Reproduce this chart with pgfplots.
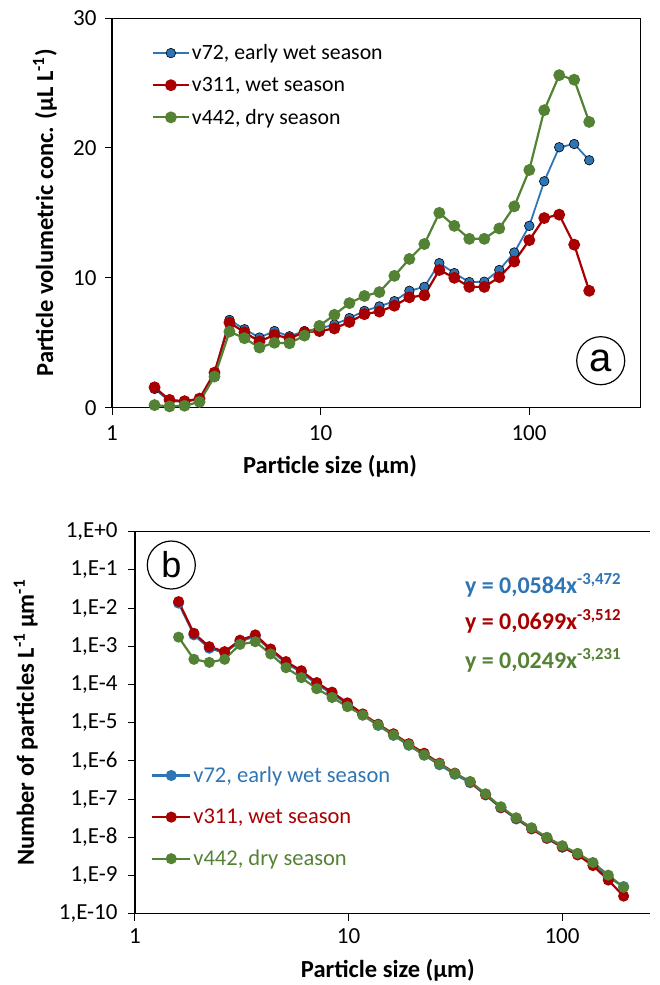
\documentclass[border=0pt]{standalone}
\usepackage{pgfplots}
\usepackage{pgfplotstable}
\pgfplotsset{compat=1.18}
\usepackage{fontspec}
\setmainfont{Carlito}
\newfontfamily\arialfont{Liberation Sans}
\definecolor{cblue}{RGB}{46,117,182}
\definecolor{cred}{RGB}{168,0,0}
\definecolor{cgreen}{RGB}{84,130,53}
\pgfplotstableread{
x a72 a311 a442 b72 b311 b442
1.600 1.45 1.57 0.20 1.349e-2 1.479e-2 1.738e-3
1.888 0.50 0.60 0.10 1.995e-3 2.188e-3 4.571e-4
2.228 0.45 0.50 0.15 8.913e-4 9.772e-4 3.802e-4
2.629 0.65 0.70 0.45 6.761e-4 7.244e-4 4.571e-4
3.102 2.70 2.70 2.40 1.349e-3 1.445e-3 1.122e-3
3.660 6.76 6.55 5.86 1.820e-3 1.995e-3 1.318e-3
4.319 6.04 5.80 5.35 7.943e-4 8.511e-4 6.310e-4
5.097 5.40 5.10 4.63 3.631e-4 3.981e-4 2.754e-4
6.014 5.90 5.60 5.00 2.089e-4 2.291e-4 1.514e-4
7.097 5.50 5.35 4.96 1.023e-4 1.122e-4 7.762e-5
8.374 5.90 5.80 5.55 5.754e-5 6.310e-5 4.571e-5
9.881 6.10 5.90 6.30 3.020e-5 3.311e-5 2.630e-5
11.66 6.40 6.10 7.15 1.585e-5 1.698e-5 1.585e-5
13.76 6.90 6.60 8.05 8.511e-6 9.120e-6 8.710e-6
16.24 7.45 7.20 8.60 4.677e-6 5.129e-6 4.786e-6
19.16 7.80 7.40 8.90 2.570e-6 2.818e-6 2.630e-6
22.61 8.20 7.85 10.15 1.413e-6 1.585e-6 1.445e-6
26.68 9.00 8.50 11.45 7.943e-7 8.710e-7 8.318e-7
31.48 9.30 8.65 12.60 4.467e-7 4.786e-7 4.677e-7
37.14 11.13 10.60 15.00 2.692e-7 2.818e-7 2.884e-7
43.83 10.36 10.00 14.00 1.288e-7 1.318e-7 1.380e-7
51.72 9.67 9.30 13.00 5.888e-8 6.026e-8 6.310e-8
61.03 9.70 9.30 13.00 3.020e-8 3.162e-8 3.236e-8
72.01 10.60 10.05 13.80 1.660e-8 1.698e-8 1.778e-8
84.97 11.95 11.25 15.50 9.333e-9 9.550e-9 1.000e-8
100.3 14.00 12.90 18.30 5.495e-9 5.623e-9 6.026e-9
118.3 17.43 14.60 22.90 3.548e-9 3.467e-9 3.802e-9
139.6 20.05 14.86 25.60 2.089e-9 1.820e-9 2.188e-9
164.7 20.30 12.55 25.25 8.913e-10 7.586e-10 1.023e-9
194.4 19.05 9.00 22.00 5.129e-10 2.884e-10 4.898e-10
}\data
\begin{document}
\begin{tikzpicture}
\useasboundingbox (0pt,0pt) rectangle (659pt,-985pt);
% ---------------- panel a
\begin{axis}[
  scale only axis, xmode=log, xmin=1,
  xminorticks=false, yminorticks=false,
  tick align=outside, major tick length=7pt,
  axis line style={line width=1.3pt},
  tick style={line width=1pt, black},
  ticklabel style={font=\fontsize{23}{26}\selectfont},
  xticklabel style={yshift=-7pt},
  yticklabel style={xshift=-5pt},
  xtick={1,10,100}, xticklabels={1,10,100},
  clip=false,
  at={(112pt,-407.7pt)}, anchor=south west,
  width=528pt, height=389.7pt,
  xmax=340.6, ymin=0, ymax=30,
  axis x line*=bottom, axis y line*=left,
  ytick={0,10,20,30}, yticklabels={0,10,20,30},
  xlabel={Particle size (µm)},
  ylabel={Particle volumetric conc. (µL L\textsuperscript{-1})},
  xlabel style={at={(axis description cs:0.413,-0.15)}, anchor=center, font=\fontsize{24.5}{28}\selectfont\bfseries},
  ylabel style={at={(axis description cs:-0.127,0.5)}, anchor=center, font=\fontsize{24.5}{28}\selectfont\bfseries},
  legend style={at={(axis description cs:0.075,0.937)}, anchor=north west,
    draw=none, fill=none, font=\fontsize{21.8}{26}\selectfont, row sep=12pt,
    inner sep=0pt},
  legend cell align=left,
  legend image code/.code={
    \draw[mark repeat=2, mark phase=2, #1] plot coordinates {(0pt,0pt) (18pt,0pt) (36pt,0pt)};
  },
]
\addplot[cblue, line width=1.8pt, mark=*, mark size=4.8pt,
  mark options={fill=cblue, draw=black, line width=0.6pt}] table[x=x,y=a72]{\data};
\addlegendentry{v72, early wet season}
\addplot[cred, line width=2.2pt, mark=*, mark size=4.8pt,
  mark options={fill=cred, draw=cred}] table[x=x,y=a311]{\data};
\addlegendentry{v311, wet season}
\addplot[cgreen, line width=2.2pt, mark=*, mark size=4.8pt,
  mark options={fill=cgreen, draw=cgreen}] table[x=x,y=a442]{\data};
\addlegendentry{v442, dry season}
\draw[line width=1pt] (rel axis cs:0,1) -- (rel axis cs:1,1) -- (rel axis cs:1,0);
\node[circle, draw, line width=1.2pt, minimum size=48pt, inner sep=0pt,
  font=\arialfont\fontsize{40}{40}\selectfont] at (rel axis cs:0.9256,0.1206) {a};
\end{axis}
% ---------------- panel b
\begin{axis}[
  scale only axis, xmode=log, xmin=1,
  xminorticks=false, yminorticks=false,
  tick align=outside, major tick length=7pt,
  axis line style={line width=1.3pt},
  tick style={line width=1pt, black},
  ticklabel style={font=\fontsize{23}{26}\selectfont},
  xticklabel style={yshift=-4pt},
  yticklabel style={xshift=-7pt},
  xtick={1,10,100}, xticklabels={1,10,100},
  clip=false,
  at={(135pt,-913.7pt)}, anchor=south west,
  width=515pt, height=382pt,
  xmax=258.3, ymode=log, ymin=1e-10, ymax=1,
  axis x line*=bottom, axis y line*=left,
  ytick={1e-10,1e-9,1e-8,1e-7,1e-6,1e-5,1e-4,1e-3,1e-2,1e-1,1},
  yticklabels={{1,E-10},{1,E-9},{1,E-8},{1,E-7},{1,E-6},{1,E-5},{1,E-4},{1,E-3},{1,E-2},{1,E-1},{1,E+0}},
  xlabel={Particle size (µm)},
  ylabel={Number of particles L\textsuperscript{-1} µm\textsuperscript{-1}},
  xlabel style={at={(axis description cs:0.491,-0.147)}, anchor=center, font=\fontsize{24.5}{28}\selectfont\bfseries},
  ylabel style={at={(axis description cs:-0.212,0.5)}, anchor=center, font=\fontsize{24.5}{28}\selectfont\bfseries},
  legend style={at={(axis description cs:0.031,0.39)}, anchor=north west,
    draw=none, fill=none, font=\fontsize{22.5}{26}\selectfont, row sep=21pt,
    inner sep=0pt},
  legend cell align=left,
  legend image code/.code={
    \draw[mark repeat=2, mark phase=2, #1] plot coordinates {(0pt,0pt) (19pt,0pt) (38pt,0pt)};
  },
]
\addplot[cblue, line width=2.2pt, mark=*, mark size=4.4pt,
  mark options={fill=cblue, draw=cblue}] table[x=x,y=b72]{\data};
\addlegendentry{\textcolor{cblue}{v72, early wet season}}
\addplot[cred, line width=2.2pt, mark=*, mark size=4.4pt,
  mark options={fill=cred, draw=cred}] table[x=x,y=b311]{\data};
\addlegendentry{\textcolor{cred}{v311, wet season}}
\addplot[cgreen, line width=2.2pt, mark=*, mark size=4.4pt,
  mark options={fill=cgreen, draw=cgreen}] table[x=x,y=b442]{\data};
\addlegendentry{\textcolor{cgreen}{v442, dry season}}
\draw[line width=1.3pt] (rel axis cs:0,1) -- (rel axis cs:1,1);
\node[circle, draw, line width=1.2pt, minimum size=48pt, inner sep=0pt,
  font=\arialfont\fontsize{36}{36}\selectfont] at (rel axis cs:0.0705,0.9128) {b};
\node[anchor=east, font=\fontsize{24}{28}\selectfont\bfseries, text=cblue]
  at (rel axis cs:0.951,0.860) {y = 0,0584x\textsuperscript{-3,472}};
\node[anchor=east, font=\fontsize{24}{28}\selectfont\bfseries, text=cred]
  at (rel axis cs:0.951,0.764) {y = 0,0699x\textsuperscript{-3,512}};
\node[anchor=east, font=\fontsize{24}{28}\selectfont\bfseries, text=cgreen]
  at (rel axis cs:0.951,0.664) {y = 0,0249x\textsuperscript{-3,231}};
\end{axis}
\end{tikzpicture}
\end{document}
